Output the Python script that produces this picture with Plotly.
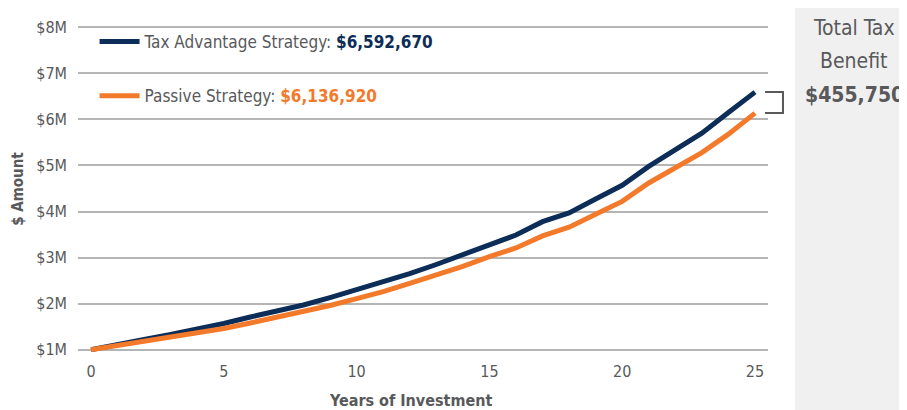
import plotly.graph_objects as go

years = list(range(0, 26))
tax_advantage = [1.00, 1.12, 1.22, 1.33, 1.44, 1.57, 1.71, 1.84, 1.97, 2.13,
                 2.30, 2.46, 2.65, 2.85, 3.06, 3.29, 3.49, 3.78, 3.97, 4.27,
                 4.57, 4.98, 5.33, 5.70, 6.15, 6.59267]
passive = [1.00, 1.09, 1.18, 1.27, 1.36, 1.46, 1.58, 1.70, 1.82, 1.96,
           2.11, 2.26, 2.44, 2.62, 2.81, 3.02, 3.21, 3.47, 3.66, 3.94,
           4.22, 4.62, 4.94, 5.28, 5.68, 6.13692]
y_ticks = [1, 2, 3, 4, 5, 6, 7, 8]
y_tick_labels = ["$1M", "$2M", "$3M", "$4M", "$5M", "$6M", "$7M", "$8M"]
x_ticks = [0, 5, 10, 15, 20, 25]
x_tick_labels = ["0", "5", "10", "15", "20", "25"]
tax_total_label = "$6,592,670"
passive_total_label = "$6,136,920"
benefit_label = "$455,750"

NAVY = "#0c2d57"
ORANGE = "#f37a2b"
GRAY = "#58595b"
FONT = "DejaVu Sans, Liberation Sans, sans-serif"


def cond(s):
    return f"<span style='font-stretch:condensed'>{s}</span>"


fig = go.Figure()
fig.add_trace(go.Scatter(
    x=years, y=tax_advantage, mode="lines",
    line=dict(color=NAVY, width=5),
    legendgroup="a",
    name=cond("Tax Advantage Strategy: ") + f"<b><span style='color:{NAVY};font-stretch:condensed'>{tax_total_label}</span></b>",
))
fig.add_trace(go.Scatter(
    x=years, y=passive, mode="lines",
    line=dict(color=ORANGE, width=5),
    legendgroup="b",
    name=cond("Passive Strategy: ") + f"<b><span style='color:{ORANGE};font-stretch:condensed'>{passive_total_label}</span></b>",
))

# Gray side panel
fig.add_shape(type="rect", xref="paper", yref="paper",
              x0=1.039, x1=1.30, y0=-0.5, y1=1.5,
              fillcolor="#f0f0f0", line=dict(width=0), layer="below")

# Bracket showing the difference
xa, xb = 0.9957, 1.0217
fig.add_shape(type="path", xref="paper", yref="y",
              path=f"M {xa},{tax_advantage[-1]} L {xb},{tax_advantage[-1]} L {xb},{passive[-1]} L {xa},{passive[-1]}",
              line=dict(color=GRAY, width=2))

# Panel text
panel_font = dict(family=FONT, size=21, color=GRAY)
fig.add_annotation(xref="paper", yref="paper", x=1.125, y=0.990, text=cond("Total Tax"),
                   showarrow=False, font=panel_font, xanchor="center", yanchor="middle")
fig.add_annotation(xref="paper", yref="paper", x=1.125, y=0.891, text=cond("Benefit"),
                   showarrow=False, font=panel_font, xanchor="center", yanchor="middle")
fig.add_annotation(xref="paper", yref="paper", x=1.125, y=0.786, text=f"<b>{cond(benefit_label)}</b>",
                   showarrow=False, font=panel_font, xanchor="center", yanchor="middle")

# Axis titles
fig.add_annotation(xref="paper", yref="paper", x=-0.088, y=0.5, text=f"<b>{cond('$ Amount')}</b>",
                   textangle=-90, showarrow=False,
                   font=dict(family=FONT, size=15, color=GRAY),
                   xanchor="center", yanchor="middle")
fig.add_annotation(xref="paper", yref="paper", x=0.482, y=-0.148, text=f"<b>{cond('Years of Investment')}</b>",
                   showarrow=False, font=dict(family=FONT, size=16, color=GRAY),
                   xanchor="center", yanchor="middle")

fig.update_layout(
    width=899, height=402,
    margin=dict(l=70, r=139, t=10, b=58, pad=0),
    paper_bgcolor="white", plot_bgcolor="white",
    font=dict(family=FONT, size=16, color=GRAY),
    showlegend=True,
    legend=dict(x=0.024, y=1.003, xanchor="left", yanchor="top",
                bgcolor="rgba(0,0,0,0)", borderwidth=0, itemwidth=40,
                tracegroupgap=29, font=dict(family=FONT, size=17, color=GRAY)),
    xaxis=dict(range=[-0.49, 25.49], tickvals=x_ticks,
               ticktext=[cond(t) for t in x_tick_labels], showgrid=False,
               zeroline=False, showline=False, ticks="",
               ticklabelstandoff=8, fixedrange=True),
    yaxis=dict(range=[0.95, 8.05], tickvals=y_ticks,
               ticktext=[cond(t) for t in y_tick_labels],
               showgrid=True, gridcolor="#b5b5b5", gridwidth=1.5,
               zeroline=False, showline=False, ticks="",
               ticklabelstandoff=10, fixedrange=True),
)

fig.write_html("out.html")
